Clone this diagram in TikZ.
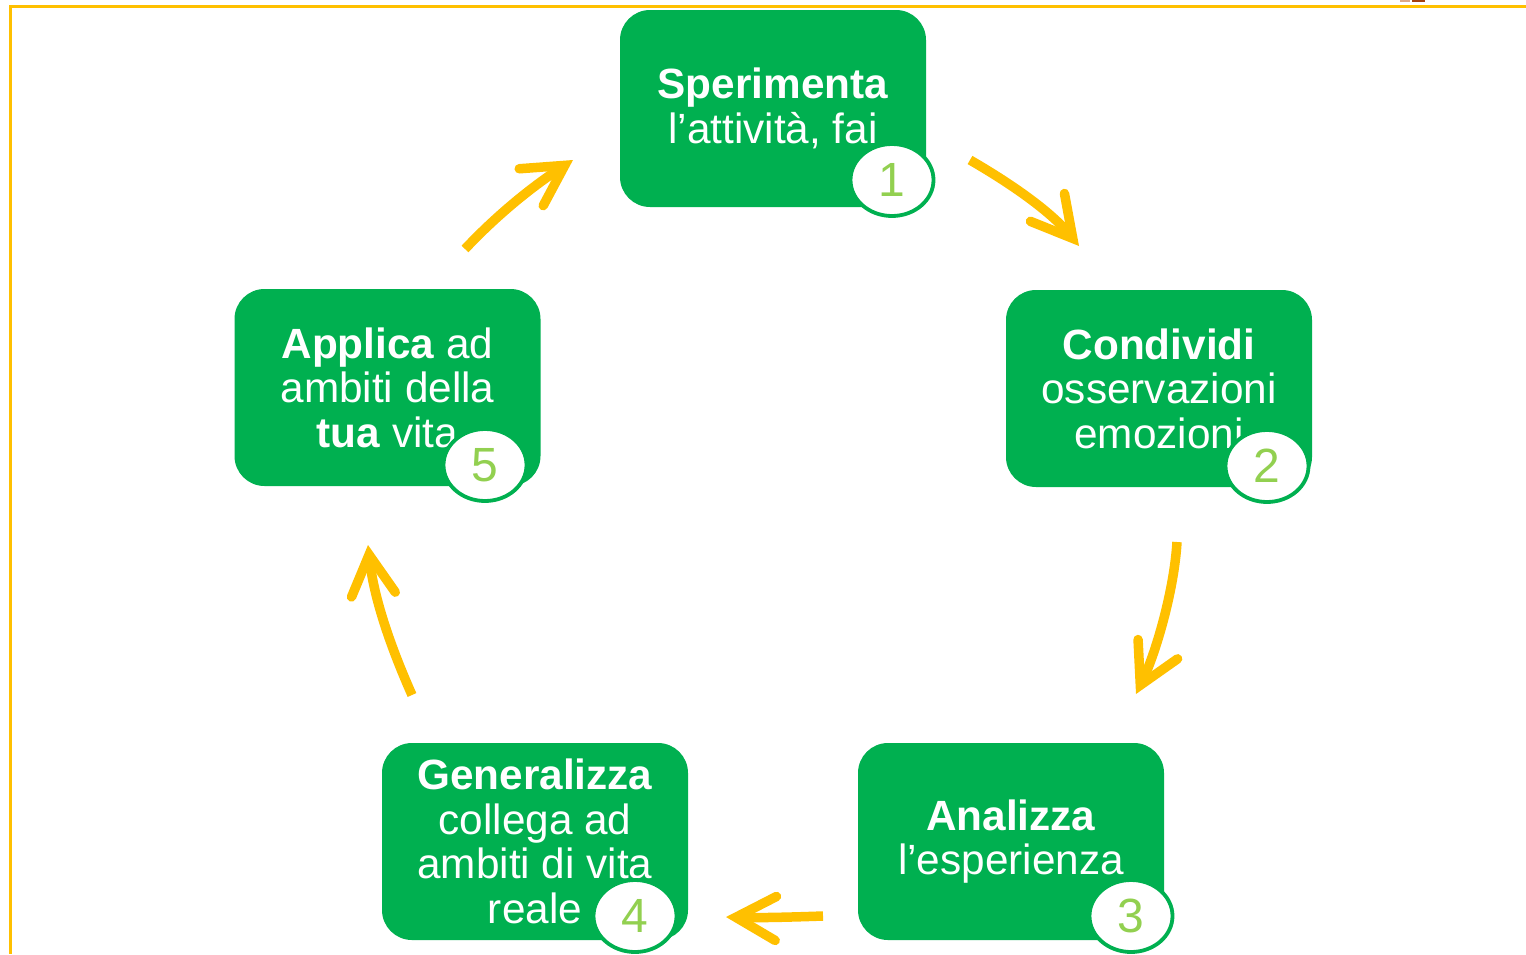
\documentclass[tikz,border=0pt]{standalone}
\usepackage{fontspec}
\setmainfont{Liberation Sans}
\usepackage[]{xcolor}
\usetikzlibrary{arrows.meta,shapes.geometric}
\definecolor{boxgreen}{HTML}{00B050}
\definecolor{numgreen}{HTML}{92D050}
\definecolor{arrowyellow}{HTML}{FFC000}
\definecolor{markbrown}{HTML}{A5400F}
\definecolor{marklight}{HTML}{DDA887}
\tikzset{
  stepbox/.style={rectangle, rounded corners=30pt, fill=boxgreen, text=white,
    minimum width=306pt, minimum height=197pt, inner sep=0pt, align=center,
    font=\fontsize{42.3}{44.5}\selectfont},
  badge/.style={ellipse, draw=boxgreen, line width=3.8pt, fill=white, text=numgreen,
    minimum width=83pt, minimum height=72pt, inner sep=0pt,
    font=\fontsize{48}{50}\selectfont},
  cycarrow/.style={draw=arrowyellow, line width=9.5pt,
    -{Straight Barb[length=40pt,width=44pt,line cap=round]}}
}

\begin{document}
\begin{tikzpicture}[x=1pt,y=-1pt]
        \useasboundingbox (0,0) rectangle (1526,954);
        \draw[arrowyellow, line width=2.2pt] (10.5,954) -- (10.5,6.5) -- (1526,6.5);
        \fill[marklight] (1400,0) rectangle (1410,1.5);
        \fill[markbrown] (1412,0) rectangle (1425,1.5);

        \node[stepbox] (sperimenta) at (773,108.5) {\textbf{Sperimenta}\\l’attività, fai};
        \node[stepbox] (condividi)  at (1159,388.5) {\textbf{Condividi}\\osservazioni\\emozioni};
        \node[stepbox] (analizza)   at (1011,841.5) {\textbf{Analizza}\\l’esperienza};
        \node[stepbox] (generalizza) at (535,841.5) {\textbf{Generalizza}\\collega ad\\ambiti di vita\\reale};
        \node[stepbox] (applica)    at (387.5,387.5) {\textbf{Applica} ad\\ambiti della\\\textbf{tua} vita};

        \node[badge] (n1) at (892,180) {1};
        \node[badge] (n2) at (1267,466) {2};
        \node[badge] (n3) at (1131,916) {3};
        \node[badge] (n4) at (635,916) {4};
        \node[badge] (n5) at (485,465) {5};

        \coordinate (a1) at (970,160);
        \coordinate (b1) at (1079,246);
        \coordinate (a2) at (1177,542);
        \coordinate (b2) at (1136,694);
        \coordinate (a3) at (823,916);
        \coordinate (b3) at (726,917);
        \coordinate (a4) at (412,695);
        \coordinate (b4) at (368,545);
        \coordinate (a5) at (465,249);
        \coordinate (b5) at (573,160);

        \draw[cycarrow] (a1) .. controls (1015,186) and (1052,213) .. (b1);
        \draw[cycarrow] (a2) .. controls (1174,592) and (1155,655) .. (b2);
        \draw[cycarrow] (a3) .. controls (795,917) and (760,918) .. (b3);
        \draw[cycarrow] (a4) .. controls (392,650) and (374,600) .. (b4);
        \draw[cycarrow] (a5) .. controls (495,217) and (530,188) .. (b5);
\end{tikzpicture}
\end{document}
